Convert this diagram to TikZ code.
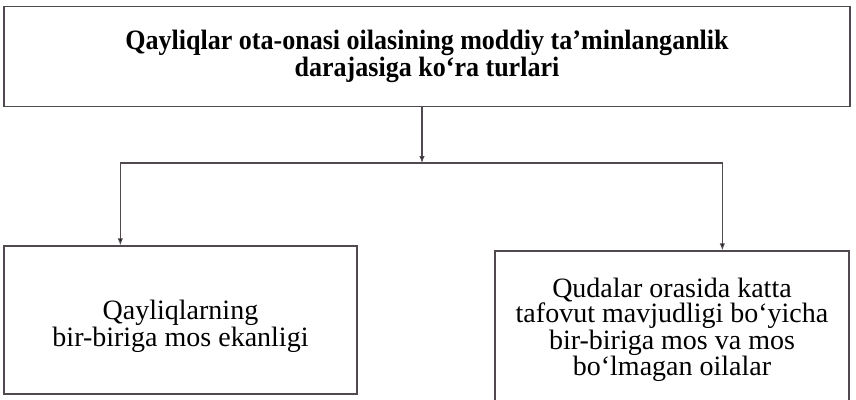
\documentclass[tikz,border=0pt]{standalone}
\usepackage{fontspec}
\setmainfont{Liberation Serif}
\newfontfamily\headfont[FakeStretch=0.93]{Liberation Serif}
\usetikzlibrary{arrows.meta}
\definecolor{scanline}{RGB}{80,74,80}

\begin{document}
\begin{tikzpicture}[x=1pt, y=-1pt, >={Latex[length=7pt,width=5.5pt]},
  box/.style={draw=scanline, line width=1.3pt, align=center, inner sep=0pt},
  link/.style={draw=scanline, line width=1.1pt}]
\useasboundingbox (0,0) rectangle (856,399);
\node[box, minimum width=846pt, minimum height=100pt,
  font=\headfont\bfseries\fontsize{28}{27}\selectfont] (title) at (427,56.5)
  {Qayliqlar ota-onasi oilasining moddiy ta’minlanganlik\\darajasiga ko‘ra turlari};
\node[box, minimum width=353pt, minimum height=148pt,
  label={[align=center, yshift=-6.5pt, font=\fontsize{28}{25}\selectfont]center:{Qayliqlarning\\bir-biriga mos ekanligi}}]
  (left) at (180.5,320) {};
\node[box, minimum width=354pt, minimum height=150pt,
  label={[align=center, yshift=-4pt, font=\fontsize{28}{25}\selectfont]center:{Qudalar orasida katta\\tafovut mavjudligi bo‘yicha\\bir-biriga mos va mos\\bo‘lmagan oilalar}}]
  (right) at (672,326) {};
\coordinate (split) at (422,163);

\draw[link]
	(title.south -| split) edge[->] (split)
	(split) edge[->, to path={-| (\tikztotarget)}] ([xshift=117pt]left.north west)
	(split) edge[->, to path={-| (\tikztotarget)}] ([xshift=228pt]right.north west)
;
\end{tikzpicture}
\end{document}
